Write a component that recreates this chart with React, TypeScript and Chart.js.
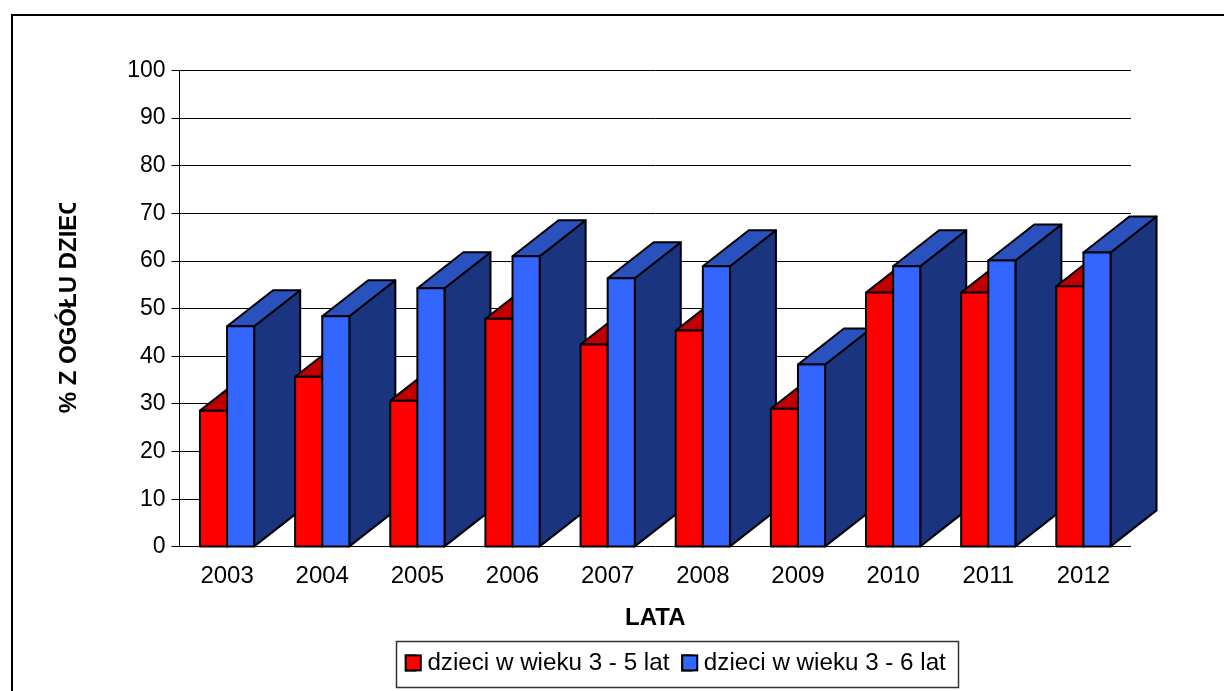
import React, { useEffect, useRef } from "react";
import { Chart, registerables } from "chart.js";

Chart.register(...registerables);

const years = ["2003", "2004", "2005", "2006", "2007", "2008", "2009", "2010", "2011", "2012"];
const ages3to5 = [28.6, 35.7, 30.7, 47.9, 42.5, 45.4, 29, 53.4, 53.4, 54.7];
const ages3to6 = [46.3, 48.4, 54.3, 61, 56.4, 58.9, 38.3, 58.9, 60.1, 61.8];
const seriesNames = ["dzieci w wieku 3 - 5 lat", "dzieci w wieku 3 - 6 lat"];
const frontColors = ["#ff0000", "#3366ff"];
const topColors = ["#c00000", "#2a52be"];
const sideColors = ["#800000", "#1a347f"];

const DEPTH_X = 46;
const DEPTH_Y = 36;
const FONT = "'Liberation Sans', Arial, sans-serif";
const LEGEND_SIZE = 24.2;
const LEGEND_BOX = 9.5;
const LEGEND_PAD = 12.9;
const MARKER = 15;
const LEGEND_SHIFT = 110.3;

function poly(ctx: CanvasRenderingContext2D, pts: number[][], fill: string) {
  ctx.beginPath();
  pts.forEach((p, i) => (i ? ctx.lineTo(p[0], p[1]) : ctx.moveTo(p[0], p[1])));
  ctx.closePath();
  ctx.fillStyle = fill;
  ctx.fill();
  ctx.stroke();
}

const bars3d = {
  id: "bars3d",
  beforeDatasetsDraw(chart: any) {
    const ctx = chart.ctx as CanvasRenderingContext2D;
    ctx.save();
    ctx.strokeStyle = "#000";
    ctx.lineWidth = 2;
    ctx.lineJoin = "round";
    years.forEach((_, i) => {
      chart.data.datasets.forEach((_d: any, d: number) => {
        const el = chart.getDatasetMeta(d).data[i];
        const { x, y, base, width } = el.getProps(["x", "y", "base", "width"], true);
        const l = x - width / 2;
        const r = x + width / 2;
        poly(ctx, [[r, y], [r + DEPTH_X, y - DEPTH_Y], [r + DEPTH_X, base - DEPTH_Y], [r, base]], sideColors[d]);
        poly(ctx, [[l, y], [l + DEPTH_X, y - DEPTH_Y], [r + DEPTH_X, y - DEPTH_Y], [r, y]], topColors[d]);
        poly(ctx, [[l, y], [r, y], [r, base], [l, base]], frontColors[d]);
      });
    });
    ctx.restore();
    return false;
  },
};

const furniture = {
  id: "furniture",
  afterLayout(chart: any) {
    // the reference's legend sits left of the plot's centre
    chart.legend.left += LEGEND_SHIFT;
    chart.legend.right += LEGEND_SHIFT;
  },
  beforeDraw(chart: any) {
    const ctx = chart.ctx as CanvasRenderingContext2D;
    ctx.save();
    ctx.fillStyle = "#fff";
    ctx.fillRect(0, 0, chart.width, chart.height);
    ctx.strokeStyle = "#000";
    ctx.lineWidth = 2;
    ctx.strokeRect(12, 15, 1400, 900);
    ctx.strokeStyle = "#333";
    ctx.lineWidth = 1.5;
    ctx.strokeRect(396.5, 641.5, 562, 46);
    ctx.restore();
  },
  afterDraw(chart: any) {
    const ctx = chart.ctx as CanvasRenderingContext2D;
    ctx.save();
    // the reference's axis title is cut off at the end of its box
    ctx.fillStyle = "#fff";
    ctx.fillRect(50, 170, 40, 33);
    // legend markers are wider than the gap the legend leaves beside its text
    const lg = chart.legend;
    ctx.font = `${LEGEND_SIZE}px ${FONT}`;
    const lineWidth = lg.lineWidths[0];
    let x = (lg.left + LEGEND_PAD + lg.right - lineWidth) / 2;
    const y = lg.top + LEGEND_PAD + (LEGEND_SIZE - MARKER) / 2;
    ctx.strokeStyle = "#000";
    ctx.lineWidth = 2;
    seriesNames.forEach((name, i) => {
      ctx.fillStyle = frontColors[i];
      ctx.fillRect(x, y, MARKER, MARKER);
      ctx.strokeRect(x, y, MARKER, MARKER);
      x += LEGEND_BOX + LEGEND_SIZE / 2 + ctx.measureText(name).width + LEGEND_PAD;
    });
    ctx.restore();
  },
};

export default function App() {
  const ref = useRef<HTMLCanvasElement>(null);
  useEffect(() => {
    const chart = new Chart(ref.current!, {
      type: "bar",
      data: {
        labels: years,
        datasets: [ages3to5, ages3to6].map((values, i) => ({
          label: seriesNames[i],
          data: values,
          backgroundColor: frontColors[i],
          borderColor: "#000",
          borderWidth: 2,
          barPercentage: 1,
          categoryPercentage: 0.57,
        })),
      },
      options: {
        animation: false,
        responsive: false,
        layout: { padding: { left: 0, top: 70.5, right: 93, bottom: 6 } },
        plugins: {
          tooltip: { enabled: false },
          title: { display: false },
          legend: {
            display: true,
            position: "bottom",
            labels: {
              boxWidth: LEGEND_BOX,
              boxHeight: MARKER,
              padding: LEGEND_PAD,
              color: "#000",
              font: { family: FONT, size: LEGEND_SIZE },
            },
          },
        },
        scales: {
          x: {
            grid: { display: false },
            border: { display: false },
            ticks: { color: "#000", padding: 7, maxRotation: 0, font: { family: FONT, size: 24 } },
            title: {
              display: true,
              text: "LATA",
              color: "#000",
              font: { family: FONT, size: 24, weight: "bold" },
              padding: { top: 0, bottom: 5.6 },
            },
            afterFit(scale: any) {
              scale.height = 91;
            },
          },
          y: {
            min: 0,
            max: 100,
            grid: { color: "#000", lineWidth: 1, tickLength: 8, drawTicks: true },
            border: { display: true, color: "#000", width: 1 },
            ticks: { stepSize: 10, color: "#000", padding: 6, font: { family: FONT, size: 23 } },
            title: {
              display: true,
              text: " % Z OGÓŁU DZIEC",
              color: "#000",
              font: { family: FONT, size: 24, weight: "bold" },
              padding: { top: 55, bottom: 0 },
            },
            afterFit(scale: any) {
              scale.width = 179.5;
            },
          },
        },
      },
      plugins: [bars3d, furniture],
    } as any);
    return () => chart.destroy();
  }, []);
  return (
    <div style={{ position: "absolute", left: 0, top: 0, width: 1224, height: 691 }}>
      <canvas ref={ref} width={1224} height={691} style={{ display: "block" }} />
    </div>
  );
}
